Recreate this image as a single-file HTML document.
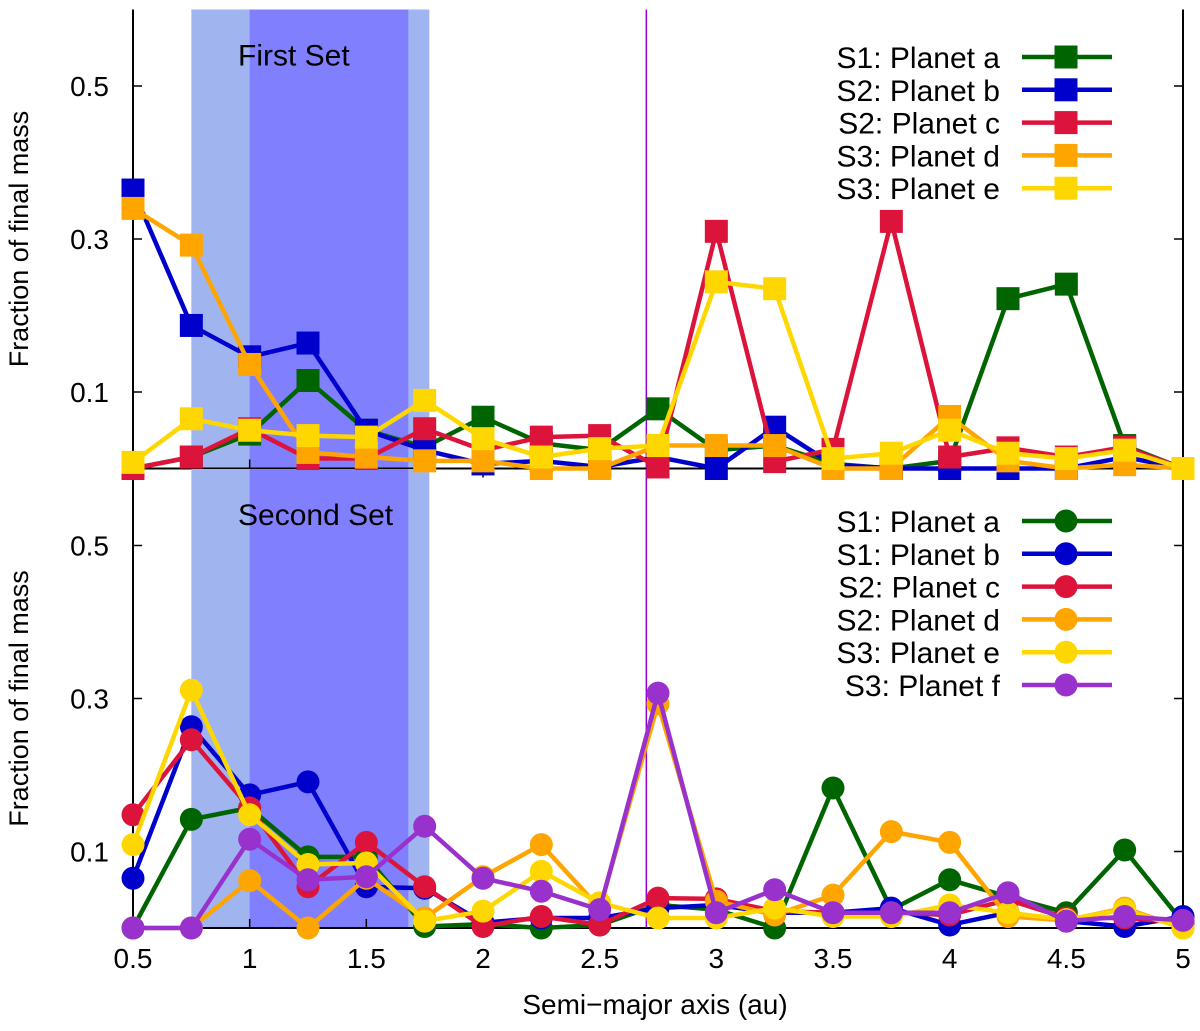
<!DOCTYPE html>
<html><head><meta charset="utf-8"><style>
body{margin:0;background:#fff;}
svg{display:block;font-family:"Liberation Sans",sans-serif;}
</style></head><body>
<svg id="chart" width="1200" height="1031" viewBox="0 0 1200 1031" xmlns="http://www.w3.org/2000/svg"></svg>
<script>
const xs = [0.5,0.75,1.0,1.25,1.5,1.75,2.0,2.25,2.5,2.75,3.0,3.25,3.5,3.75,4.0,4.25,4.5,4.75,5.0];
const xTicks = [0.5,1,1.5,2,2.5,3,3.5,4,4.5,5];
const xTickLabels = ["0.5","1","1.5","2","2.5","3","3.5","4","4.5","5"];
const yTicks = [0.1,0.3,0.5];
const yTickLabels = ["0.1","0.3","0.5"];
// First set
const topA = [0,0.015,0.045,0.115,0.05,0.028,0.067,0.033,0.024,0.078,0.024,0.03,0.006,0,0.01,0.222,0.241,0.03,0];
const topB = [0.364,0.187,0.146,0.164,0.05,0.024,0.006,0.01,0.002,0.015,0,0.054,0.005,0,0,0,0,0.015,0];
const topC = [0,0.015,0.052,0.013,0.013,0.052,0.024,0.041,0.043,0.002,0.31,0.009,0.025,0.323,0.015,0.027,0.015,0.028,0];
const topD = [0.34,0.292,0.136,0.021,0.015,0.01,0.01,0,0,0.03,0.03,0.03,0,0,0.068,0.01,0,0.005,0];
const topE = [0.008,0.065,0.05,0.043,0.041,0.089,0.039,0.015,0.026,0.03,0.244,0.235,0.013,0.02,0.05,0.02,0.013,0.024,0];
// Second set
const botA = [0,0.142,0.157,0.093,0.093,0.002,0.005,0,0.004,0.03,0.024,0,0.183,0.024,0.063,0.041,0.02,0.102,0.007];
const botB = [0.065,0.263,0.174,0.191,0.054,0.052,0.007,0.013,0.013,0.026,0.03,0.02,0.02,0.026,0.004,0.02,0.009,0.002,0.015];
const botC = [0.148,0.246,0.157,0.054,0.112,0.054,0.002,0.015,0.004,0.039,0.038,0.022,0.02,0.02,0.017,0.037,0.013,0.013,0.007];
const botD = [0,0,0.062,0,0.065,0.013,0.067,0.109,0.026,0.293,0.035,0.017,0.043,0.126,0.112,0.015,0.01,0.026,0];
const botE = [0.109,0.311,0.148,0.083,0.085,0.009,0.022,0.074,0.033,0.013,0.013,0.026,0.015,0.015,0.03,0.02,0.011,0.024,0];
const botF = [0,0,0.116,0.063,0.067,0.133,0.065,0.048,0.024,0.307,0.02,0.05,0.02,0.02,0.02,0.046,0.009,0.015,0.01];

const NS="http://www.w3.org/2000/svg";
const svg=document.getElementById('chart');
const X0=133,X1=1183;
const xScale=v=>X0+(v-0.5)/4.5*(X1-X0);
const panels=[{top:9.5,bot:468.5},{top:469,bot:928}];
const yScale=(p,v)=>p.bot-(v/0.6)*(p.bot-p.top);
function el(tag,attrs,parent){const e=document.createElementNS(NS,tag);for(const k in attrs)e.setAttribute(k,attrs[k]);(parent||svg).appendChild(e);return e;}

const colors={a:"#006400",b:"#0000cd",c:"#dc143c",d:"#ffa500",e:"#ffd700",f:"#9932cc"};

panels.forEach((p,pi)=>{
  const g=el('g',{});
  
  
  let r=el('rect',{x:xScale(0.75),y:p.top,width:xScale(1.77)-xScale(0.75),height:p.bot-p.top,fill:"#a0b4f0"},g);
  
  
  r=el('rect',{x:xScale(1.0),y:p.top,width:xScale(1.68)-xScale(1.0),height:p.bot-p.top,fill:"#8080ff"},g);
  
  
  let l=el('line',{x1:xScale(2.7),x2:xScale(2.7),y1:p.top,y2:p.bot,stroke:"#9400d3","stroke-width":1.5},g);
  
  
  yTicks.forEach((t,i)=>{
    const y=yScale(p,t);
    el('line',{x1:X0,x2:X0+9,y1:y,y2:y,stroke:"#000","stroke-width":1.5},g);
    el('line',{x1:X1-9,x2:X1,y1:y,y2:y,stroke:"#000","stroke-width":1.5},g);
    const tx=el('text',{x:109,y:y+10,"text-anchor":"end","font-size":28},g);
    tx.textContent=yTickLabels[i];
    
    
  });
  xTicks.forEach(t=>{
    const x=xScale(t);
    el('line',{x1:x,x2:x,y1:p.bot-9,y2:p.bot,stroke:"#000","stroke-width":1.5},g);
    if(pi===0) el('line',{x1:x,x2:x,y1:p.bot,y2:p.bot+9,stroke:"#000","stroke-width":1.5},g);
  });
  el('line',{x1:X0,x2:X0,y1:p.top,y2:p.bot,stroke:"#000","stroke-width":2},g);
  el('line',{x1:X1,x2:X1,y1:p.top,y2:p.bot,stroke:"#000","stroke-width":2},g);
  el('line',{x1:X0,x2:X1,y1:p.bot,y2:p.bot,stroke:"#000","stroke-width":2},g);
  const yt=el('text',{x:0,y:0,"text-anchor":"middle","font-size":27,transform:`translate(28,${(p.top+p.bot)/2}) rotate(-90)`},g);
  yt.textContent="Fraction of final mass";
  
  
  const tt=el('text',{x:238,y:p.top+56,"font-size":30},g);
  tt.textContent=pi===0?"First Set":"Second Set";
  
  
});

function series(p,vals,color,shape,name,label,row,legTop){
  const g=el('g',{});
  
  
  const pts=vals.map((v,i)=>[xScale(xs[i]),yScale(p,v)]);
  el('polyline',{points:pts.map(q=>q.join(',')).join(' '),fill:"none",stroke:color,"stroke-width":4.5,"stroke-linejoin":"round"},g);
  const mark=(x,y)=>{
    let m;
    if(shape==='sq') m=el('rect',{x:x-11.5,y:y-11.5,width:23,height:23,fill:color},g);
    else m=el('circle',{cx:x,cy:y,r:11.5,fill:color},g);
    
    
  };
  pts.forEach(q=>mark(q[0],q[1]));
  const ly=legTop+row*32.8;
  const lt=el('text',{x:1000,y:ly+11,"text-anchor":"end","font-size":30},g);
  lt.textContent=label;
  
  
  el('line',{x1:1022,x2:1112,y1:ly,y2:ly,stroke:color,"stroke-width":4.5},g);
  mark(1066,ly);
}
const P0=panels[0],P1=panels[1];
series(P0,topA,colors.a,'sq','series-s1-planet-a',"S1: Planet a",0,57);
series(P0,topB,colors.b,'sq','series-s2-planet-b',"S2: Planet b",1,57);
series(P0,topC,colors.c,'sq','series-s2-planet-c',"S2: Planet c",2,57);
series(P0,topD,colors.d,'sq','series-s3-planet-d',"S3: Planet d",3,57);
series(P0,topE,colors.e,'sq','series-s3-planet-e',"S3: Planet e",4,57);
series(P1,botA,colors.a,'ci','series2-s1-planet-a',"S1: Planet a",0,521);
series(P1,botB,colors.b,'ci','series2-s1-planet-b',"S1: Planet b",1,521);
series(P1,botC,colors.c,'ci','series2-s2-planet-c',"S2: Planet c",2,521);
series(P1,botD,colors.d,'ci','series2-s2-planet-d',"S2: Planet d",3,521);
series(P1,botE,colors.e,'ci','series2-s3-planet-e',"S3: Planet e",4,521);
series(P1,botF,colors.f,'ci','series2-s3-planet-f',"S3: Planet f",5,521);

xTicks.forEach((t,i)=>{
  const tx=el('text',{x:xScale(t),y:968,"text-anchor":"middle","font-size":28});
  tx.textContent=xTickLabels[i];
  
  
});
const xt=el('text',{x:655,y:1014,"text-anchor":"middle","font-size":28});
xt.textContent="Semi−major axis (au)";


</script>
</body></html>
